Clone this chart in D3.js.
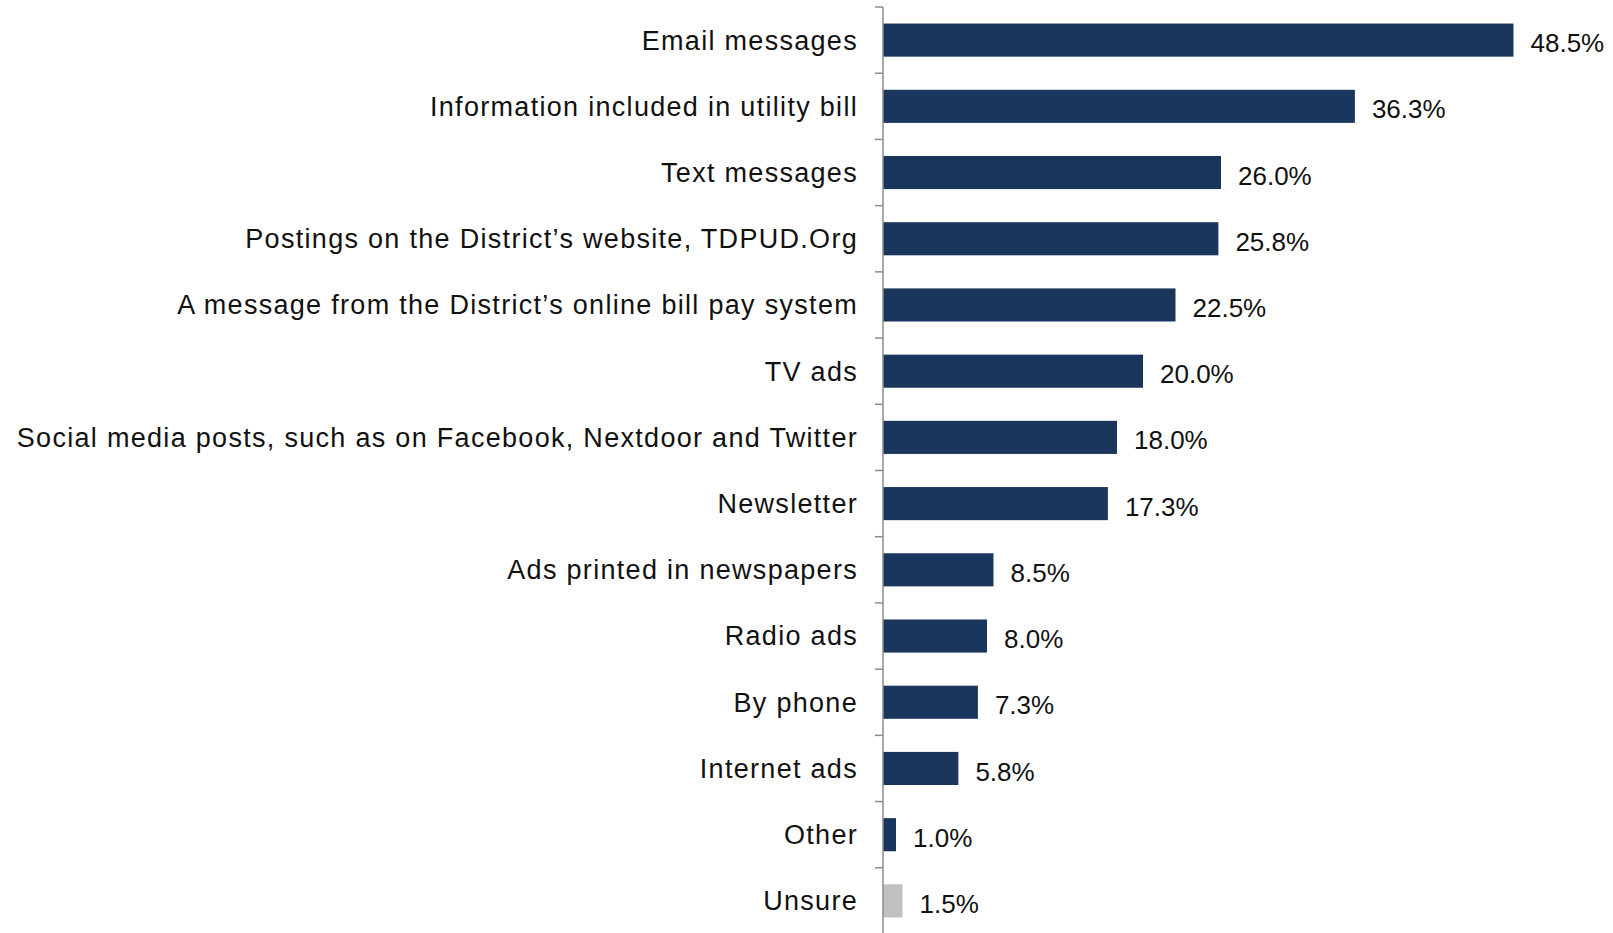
<!DOCTYPE html>
<html>
<head>
<meta charset="utf-8">
<script src="https://cdn.jsdelivr.net/npm/d3@7/dist/d3.min.js"></script>
<style>
  body { margin: 0; background: #fff; }
  text { font-family: "Liberation Sans", Arial, sans-serif; }
</style>
</head>
<body>
<script>
// chart data
var categories = [
  "Email messages",
  "Information included in utility bill",
  "Text messages",
  "Postings on the District\u2019s website, TDPUD.Org",
  "A message from the District\u2019s online bill pay system",
  "TV ads",
  "Social media posts, such as on Facebook, Nextdoor and Twitter",
  "Newsletter",
  "Ads printed in newspapers",
  "Radio ads",
  "By phone",
  "Internet ads",
  "Other",
  "Unsure"
];
var values = [48.5, 36.3, 26.0, 25.8, 22.5, 20.0, 18.0, 17.3, 8.5, 8.0, 7.3, 5.8, 1.0, 1.5];
var barColors = ["#1b365d", "#1b365d", "#1b365d", "#1b365d", "#1b365d", "#1b365d", "#1b365d",
                 "#1b365d", "#1b365d", "#1b365d", "#1b365d", "#1b365d", "#1b365d", "#c0c0c0"];

var width = 1613, height = 933;
var x0 = 883;

var svg = d3.select("body").append("svg")
    .attr("width", width)
    .attr("height", height);

var x = d3.scaleLinear().domain([0, 50]).range([x0, x0 + 650]);
var y = d3.scaleBand().domain(categories).range([7, 934]).paddingInner(0.5).paddingOuter(0.25);

// bars
svg.selectAll("rect.bar")
  .data(categories)
  .enter().append("rect")
    .attr("class", "bar")
    .attr("x", x(0))
    .attr("y", function(d) { return y(d); })
    .attr("width", function(d, i) { return x(values[i]) - x(0); })
    .attr("height", y.bandwidth())
    .attr("fill", function(d, i) { return barColors[i]; });

// axis line + ticks between categories
var axis = svg.append("g").attr("stroke", "#8c8c8c").attr("stroke-width", 1.5);
axis.append("line")
    .attr("x1", x0).attr("x2", x0)
    .attr("y1", 7).attr("y2", height);
var tickYs = d3.range(categories.length + 1).map(function(i) { return 7 + i * (934 - 7) / categories.length; });
axis.selectAll("line.tick")
  .data(tickYs)
  .enter().append("line")
    .attr("class", "tick")
    .attr("x1", x0 - 8).attr("x2", x0)
    .attr("y1", function(d) { return d; })
    .attr("y2", function(d) { return d; });

// category labels
svg.selectAll("text.cat")
  .data(categories)
  .enter().append("text")
    .attr("class", "cat")
    .attr("x", x0 - 25)
    .attr("y", function(d) { return y(d) + y.bandwidth() / 2; })
    .attr("dy", "0.35em")
    .attr("text-anchor", "end")
    .attr("font-size", "27px")
    .attr("letter-spacing", "1.3px")
    .attr("fill", "#111")
    .text(function(d) { return d; });

// value labels
svg.selectAll("text.val")
  .data(categories)
  .enter().append("text")
    .attr("class", "val")
    .attr("x", function(d, i) { return x(values[i]) + 17; })
    .attr("y", function(d) { return y(d) + y.bandwidth() / 2 + 3; })
    .attr("dy", "0.35em")
    .attr("font-size", "26px")
    .attr("fill", "#111")
    .text(function(d, i) { return values[i].toFixed(1) + "%"; });
</script>
</body>
</html>
